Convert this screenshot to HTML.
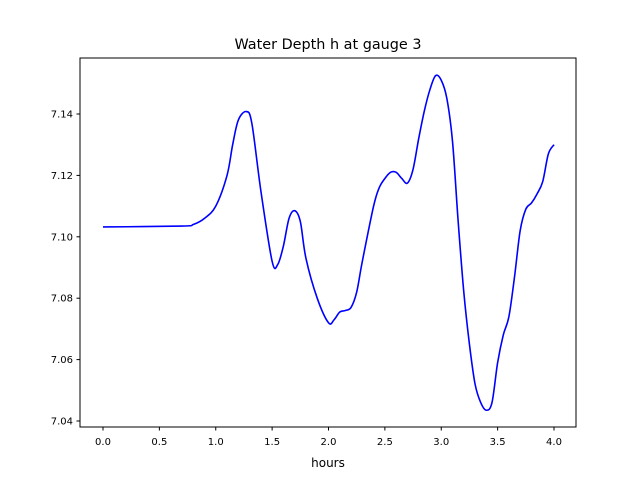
<!DOCTYPE html>
<html><head><meta charset="utf-8"><style>
body{margin:0;background:#fff}
text{font-family:"DejaVu Sans","Liberation Sans",sans-serif;fill:#000}
</style></head><body>
<svg id="chart" width="640" height="480" viewBox="0 0 640 480">
<rect width="640" height="480" fill="#fff"/>
<text x="328" y="49" font-size="14.4" text-anchor="middle">Water Depth h at gauge 3</text>
<g id="ticks"></g>
<path id="line" fill="none" stroke="#0000ff" stroke-width="1.6"/>
<rect x="80" y="58" width="496" height="369" fill="none" stroke="#000" stroke-width="1"/>
<text x="328" y="467" font-size="12" text-anchor="middle">hours</text>
</svg>
<script>
const hours=[0,0.7,0.8,0.9,1.0,1.1,1.15,1.2,1.27,1.32,1.4,1.5,1.55,1.6,1.65,1.7,1.75,1.8,1.9,2.0,2.05,2.1,2.15,2.2,2.25,2.3,2.4,2.45,2.5,2.55,2.6,2.65,2.7,2.75,2.8,2.85,2.9,2.95,3.0,3.05,3.1,3.15,3.2,3.25,3.3,3.35,3.4,3.45,3.5,3.55,3.6,3.65,3.7,3.75,3.8,3.85,3.9,3.95,4.0];
const depth=[7.1032,7.1035,7.104,7.106,7.110,7.12,7.130,7.138,7.1408,7.137,7.115,7.092,7.091,7.097,7.106,7.1085,7.105,7.093,7.080,7.072,7.073,7.0755,7.076,7.077,7.082,7.092,7.110,7.116,7.119,7.121,7.121,7.119,7.1175,7.122,7.132,7.141,7.148,7.1525,7.151,7.145,7.131,7.105,7.082,7.065,7.052,7.046,7.0435,7.046,7.059,7.068,7.074,7.087,7.102,7.109,7.111,7.114,7.118,7.127,7.130];
const xTicks=[0,0.5,1,1.5,2,2.5,3,3.5,4];
const xTickLabels=["0.0","0.5","1.0","1.5","2.0","2.5","3.0","3.5","4.0"];
const yTicks=[7.04,7.06,7.08,7.10,7.12,7.14];
const yTickLabels=["7.04","7.06","7.08","7.10","7.12","7.14"];
const xs=v=>103+v*112.75;
const ys=v=>421-(v-7.04)*3070;
const NS="http://www.w3.org/2000/svg";
const g=document.getElementById('ticks');
xTicks.forEach((t,i)=>{
  const l=document.createElementNS(NS,'line');
  l.setAttribute('x1',xs(t));l.setAttribute('x2',xs(t));l.setAttribute('y1',427);l.setAttribute('y2',430.5);l.setAttribute('stroke','#000');
  
  
  g.appendChild(l);
  const tx=document.createElementNS(NS,'text');
  tx.setAttribute('x',xs(t));tx.setAttribute('y',445);tx.setAttribute('font-size','10');tx.setAttribute('text-anchor','middle');
  tx.textContent=xTickLabels[i];
  
  
  g.appendChild(tx);
});
yTicks.forEach((t,i)=>{
  const l=document.createElementNS(NS,'line');
  l.setAttribute('x1',76.5);l.setAttribute('x2',80);l.setAttribute('y1',ys(t));l.setAttribute('y2',ys(t));l.setAttribute('stroke','#000');
  
  
  g.appendChild(l);
  const tx=document.createElementNS(NS,'text');
  tx.setAttribute('x',73);tx.setAttribute('y',ys(t)+3.5);tx.setAttribute('font-size','10');tx.setAttribute('text-anchor','end');
  tx.textContent=yTickLabels[i];
  
  
  g.appendChild(tx);
});
// Catmull-Rom smoothing
const pts=hours.map((h,i)=>[xs(h),ys(depth[i])]);
let d='M'+pts[0][0]+','+pts[0][1];
for(let i=0;i<pts.length-1;i++){
  const p0=pts[Math.max(0,i-1)],p1=pts[i],p2=pts[i+1],p3=pts[Math.min(pts.length-1,i+2)];
  const c1=[p1[0]+(p2[0]-p0[0])/6,p1[1]+(p2[1]-p0[1])/6];
  const c2=[p2[0]-(p3[0]-p1[0])/6,p2[1]-(p3[1]-p1[1])/6];
  d+=' C'+c1+' '+c2+' '+p2;
}
document.getElementById('line').setAttribute('d',d);
</script>
</body></html>
